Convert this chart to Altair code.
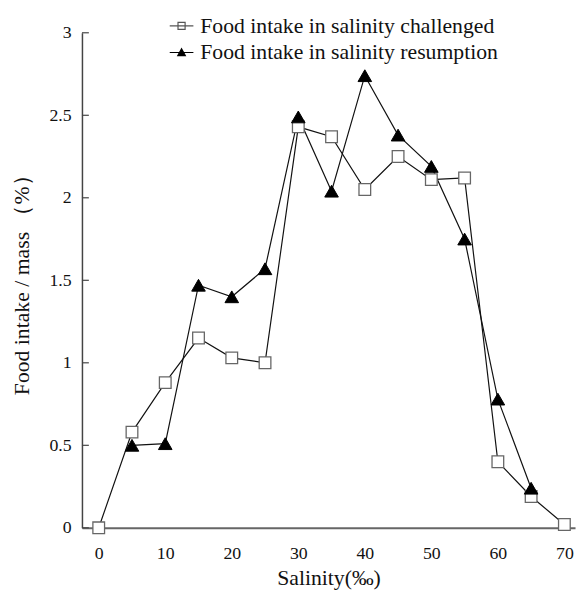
import altair as alt
import pandas as pd

# Data
salinity_challenged = [0, 5, 10, 15, 20, 25, 30, 35, 40, 45, 50, 55, 60, 65, 70]
intake_challenged = [0.0, 0.58, 0.88, 1.15, 1.03, 1.0, 2.43, 2.37, 2.05, 2.25, 2.11, 2.12, 0.40, 0.19, 0.02]

salinity_resumption = [5, 10, 15, 20, 25, 30, 35, 40, 45, 50, 55, 60, 65]
intake_resumption = [0.50, 0.51, 1.47, 1.40, 1.57, 2.49, 2.04, 2.74, 2.38, 2.19, 1.75, 0.78, 0.24]

series_names = ["Food intake in salinity challenged", "Food intake in salinity resumption"]
x_ticks = [0, 10, 20, 30, 40, 50, 60, 70]
y_ticks = [0, 0.5, 1, 1.5, 2, 2.5, 3]

rows = []
for s, v in zip(salinity_challenged, intake_challenged):
    rows.append({"salinity": s, "intake": v, "series": series_names[0]})
for s, v in zip(salinity_resumption, intake_resumption):
    rows.append({"salinity": s, "intake": v, "series": series_names[1]})
df = pd.DataFrame(rows)
ticks_df = pd.DataFrame({"t": y_ticks})

FONT = "Liberation Serif"

x_enc = alt.X("salinity:Q",
              scale=alt.Scale(domain=[-2.52, 71.6], nice=False, zero=False),
              axis=alt.Axis(values=x_ticks, ticks=False, tickSize=0, grid=False,
                            title="Salinity(‰)", titleFontSize=22, titleFont=FONT,
                            titleFontWeight="normal", titleColor="#111", titlePadding=5,
                            labelFont=FONT, labelFontSize=18, labelColor="#111",
                            labelPadding=17, domainColor="#666", domainWidth=2,
                            labelFlush=False))
y_enc = alt.Y("intake:Q",
              scale=alt.Scale(domain=[0, 3], nice=False),
              axis=alt.Axis(values=y_ticks, ticks=False, tickSize=0, grid=False,
                            format="~g",
                            title="Food intake / mass （%）", titleFontSize=22, titleFont=FONT,
                            titleFontWeight="normal", titleColor="#111",
                            titleAngle=270, titleBaseline="middle", titleAlign="center",
                            titleX=-61, titleY=250,
                            labelFont=FONT, labelFontSize=18, labelColor="#111",
                            labelPadding=11, domainColor="#444", domainWidth=1.5,
                            labelFlush=False))

base = alt.Chart(df)

lines = base.mark_line(color="#111", strokeWidth=1.2).encode(
    x=x_enc, y=y_enc, detail="series:N", order="salinity:Q")

squares = base.transform_filter(alt.datum.series == series_names[0]).mark_point(
    shape="square", filled=True, fill="white", stroke="#666", strokeWidth=1.3,
    size=140, opacity=1).encode(x="salinity:Q", y="intake:Q")

triangles = base.transform_filter(alt.datum.series == series_names[1]).mark_point(
    shape="triangle-up", filled=True, fill="black", stroke="black", strokeWidth=1,
    size=190, opacity=1).encode(x="salinity:Q", y="intake:Q")

sq_path = "M-1,0H1M-0.3,-0.3H0.3V0.3H-0.3Z"
tri_path = "M-1,0H1M0,-0.32L0.32,0.26H-0.32Z"


def make_legend():
    return alt.Legend(title=None, orient="none", legendX=88, legendY=-20,
                      labelFont=FONT, labelFontSize=22, labelColor="#111",
                      labelOffset=6, rowPadding=3, padding=0,
                      symbolOffset=0, symbolOpacity=1, symbolStrokeWidth=1.2,
                      symbolSize=576, labelLimit=400)


legend_layer = base.mark_point(filled=True, size=576, strokeWidth=1.2).encode(
    x="salinity:Q", y="intake:Q",
    shape=alt.Shape("series:N", scale=alt.Scale(domain=series_names, range=[sq_path, tri_path]),
                    legend=make_legend()),
    fill=alt.Fill("series:N", scale=alt.Scale(domain=series_names, range=["white", "black"]),
                  legend=make_legend()),
    stroke=alt.Stroke("series:N", scale=alt.Scale(domain=series_names, range=["#555", "black"]),
                      legend=make_legend()),
    opacity=alt.value(0),
)

tick_rules = alt.Chart(ticks_df).mark_rule(color="#444", strokeWidth=1.2).encode(
    y=alt.Y("t:Q"), x=alt.value(0), x2=alt.value(7))

chart = alt.layer(legend_layer, lines, squares, triangles, tick_rules).properties(
    width=500, height=502,
    autosize=alt.AutoSizeParams(type="none"),
    padding={"left": 75, "top": 21, "right": 2, "bottom": 64},
).configure(background="white", font=FONT).configure_view(stroke=None)

chart.save("out.html", embed_options={"renderer": "svg", "actions": False})
